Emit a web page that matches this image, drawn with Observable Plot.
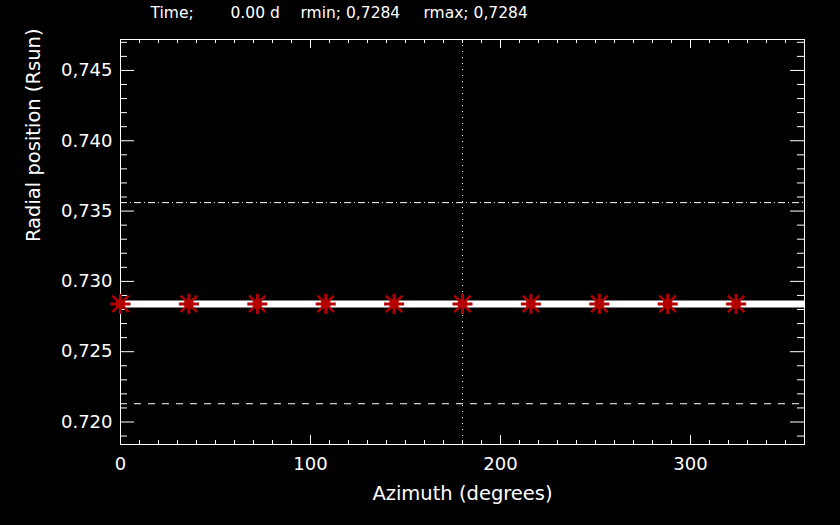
<!DOCTYPE html>
<html><head><meta charset="utf-8">
<script src="https://cdn.jsdelivr.net/npm/d3@7"></script>
<script src="https://cdn.jsdelivr.net/npm/@observablehq/plot@0.6"></script>
<style>body{margin:0;background:#000;}</style>
</head><body><div id="chart"></div>
<script>
// Data
const markerAzimuth = [0, 36, 72, 108, 144, 180, 216, 252, 288, 324];
const markerRadius = [0.7284, 0.7284, 0.7284, 0.7284, 0.7284, 0.7284, 0.7284, 0.7284, 0.7284, 0.7284];
const lineAzimuth = [0, 36, 72, 108, 144, 180, 216, 252, 288, 324, 360];
const lineRadius = [0.7284, 0.7284, 0.7284, 0.7284, 0.7284, 0.7284, 0.7284, 0.7284, 0.7284, 0.7284, 0.7284];
const upperRef = [0.7356];
const lowerRef = [0.7213];
const midAzimuth = [180];
const xMajor = [0, 100, 200, 300];
const xLabels = ["0", "100", "200", "300"];
const yMajor = [0.720, 0.725, 0.730, 0.735, 0.740, 0.745];
const yLabels = ["0.720", "0,725", "0.730", "0,735", "0.740", "0,745"];
const xMinor = d3.range(0, 361, 10);
const yMinor = d3.range(719, 748).map(d => d / 1000);
const titleParts = ["Time;", "0.00 d", "rmin; 0,7284", "rmax; 0,7284"];
const titleOffsets = [30, 110, 180, 303];

const W = 840, H = 525, mL = 120, mR = 36, mT = 39, mB = 81;
const PW = W - mL - mR, PH = H - mT - mB;

const line = lineAzimuth.map((a, i) => ({a, r: lineRadius[i]}));
const pts = markerAzimuth.map((a, i) => ({a, r: markerRadius[i]}));
const xMaj = new Set(xMajor);
const yMajS = yMajor.map(v => Math.round(v * 1000));
const xMin = xMinor.filter(d => !xMaj.has(d));
const yMin = yMinor.filter(d => !yMajS.includes(Math.round(d * 1000)));

const chart = Plot.plot({
  width: W, height: H,
  marginLeft: mL, marginRight: mR, marginTop: mT, marginBottom: mB,
  style: {background: "#000", color: "#fff", fontFamily: "DejaVu Sans", fontSize: "18px"},
  x: {domain: [0, 360]},
  y: {domain: [0.7184, 0.7472]},
  marks: [
    Plot.frame({stroke: "#fff", strokeWidth: 1}),
    // y ticks left/right
    Plot.tickY(yMajor, {y: d => d, stroke: "#fff", insetRight: PW - 14}),
    Plot.tickY(yMin, {y: d => d, stroke: "#fff", insetRight: PW - 7}),
    Plot.tickY(yMajor, {y: d => d, stroke: "#fff", insetLeft: PW - 14}),
    Plot.tickY(yMin, {y: d => d, stroke: "#fff", insetLeft: PW - 7}),
    // x ticks bottom/top
    Plot.tickX(xMajor, {x: d => d, stroke: "#fff", insetTop: PH - 9}),
    Plot.tickX(xMin, {x: d => d, stroke: "#fff", insetTop: PH - 4}),
    Plot.tickX(xMajor, {x: d => d, stroke: "#fff", insetBottom: PH - 9}),
    Plot.tickX(xMin, {x: d => d, stroke: "#fff", insetBottom: PH - 4}),
    // reference lines
    Plot.ruleY(upperRef, {y: d => d, stroke: "#fff", strokeDasharray: "7,3,1,3"}),
    Plot.ruleY(lowerRef, {y: d => d, stroke: "#fff", strokeDasharray: "7,7"}),
    Plot.ruleX(midAzimuth, {x: d => d, stroke: "#fff", strokeDasharray: "1,5"}),
    // data line
    Plot.line(line, {x: "a", y: "r", stroke: "#fff", strokeWidth: 7, strokeLinecap: "butt"}),
    // markers
    Plot.dot(pts, {x: "a", y: "r", r: 5, fill: "#b40000", stroke: "none"}),
    Plot.dot(pts, {x: "a", y: "r", symbol: "times", r: 7.5, stroke: "#b40000", strokeWidth: 2.5}),
    Plot.dot(pts, {x: "a", y: "r", symbol: "plus", r: 6.5, stroke: "#b40000", strokeWidth: 3}),
    // axes
    Plot.axisX({ticks: xMajor, tickFormat: d => xLabels[xMajor.indexOf(d)], tickSize: 0, tickPadding: 13, fontSize: 18, label: null}),
    Plot.axisY({ticks: yMajor, tickFormat: d => yLabels[yMajS.indexOf(Math.round(d * 1000))], tickSize: 0, tickPadding: 8, fontSize: 18, label: null}),
    // axis labels
    Plot.text(["Azimuth (degrees)"], {text: d => d, frameAnchor: "bottom", lineAnchor: "middle", dy: 49, fontSize: 19.5, fill: "#fff"}),
    Plot.text(["Radial position (Rsun)"], {text: d => d, frameAnchor: "left", lineAnchor: "middle", dx: -87, rotate: -90, fontSize: 19.5, fill: "#fff"}),
    // title
    ...titleParts.map((t, i) => Plot.text([t], {text: d => d, frameAnchor: "top-left", lineAnchor: "middle", dx: titleOffsets[i], dy: -26, textAnchor: "start", fontSize: 15.5, fill: "#fff"}))
  ]
});
document.getElementById("chart").append(chart);
</script>
</body></html>
